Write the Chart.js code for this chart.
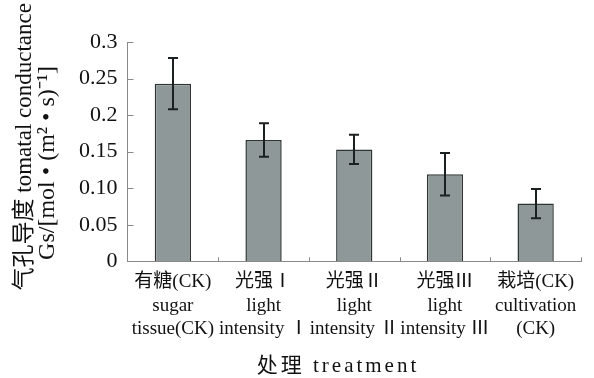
<!DOCTYPE html>
<html>
<head>
<meta charset="utf-8">
<script src="https://cdn.jsdelivr.net/npm/chart.js@4/dist/chart.umd.min.js"></script>
<style>
html, body { margin: 0; padding: 0; background: #fff; }
#wrap { width: 594px; height: 378px; }
</style>
</head>
<body>
<div id="wrap"><canvas id="chart_gs"></canvas></div>
<script>
var categories = [
	['有糖(CK)', 'sugar', 'tissue(CK)'],
	['光强Ⅰ', 'light', 'intensity Ⅰ'],
	['光强Ⅱ', 'light', 'intensity Ⅱ'],
	['光强Ⅲ', 'light', 'intensity Ⅲ'],
	['栽培(CK)', 'cultivation', '(CK)']
];
var gsValues = [0.243, 0.166, 0.153, 0.119, 0.079];
var gsErrors = [0.035, 0.023, 0.020, 0.029, 0.020];
var yTickLabels = ['0', '0.05', '0.10', '0.15', '0.2', '0.25', '0.3'];
var yTitleLines = ['气孔导度 tomatal conductance', 'Gs/[mol • (m² • s)⁻¹]'];
var xTitle = '处理 treatment';

var serif = "'Liberation Serif', 'Times New Roman', 'Noto Sans CJK SC', serif";

// error bars, inner tick marks and the two axis titles
var decor = {
	id: 'decor',
	afterDatasetsDraw: function(chart) {
		var ctx = chart.ctx, x = chart.scales.x, y = chart.scales.y, area = chart.chartArea;
		ctx.save();
		ctx.strokeStyle = '#1b2121';
		ctx.lineWidth = 2;
		ctx.beginPath();
		gsValues.forEach(function(v, i) {
			var cx = Math.round(x.getPixelForValue(i));
			var top = y.getPixelForValue(v + gsErrors[i]);
			var bot = y.getPixelForValue(v - gsErrors[i]);
			ctx.moveTo(cx, top); ctx.lineTo(cx, bot);
			ctx.moveTo(cx - 5, top); ctx.lineTo(cx + 5, top);
			ctx.moveTo(cx - 5, bot); ctx.lineTo(cx + 5, bot);
		});
		ctx.stroke();

		ctx.strokeStyle = '#8a8a8a';
		ctx.lineWidth = 1;
		ctx.beginPath();
		y.ticks.forEach(function(t) {
			var py = Math.round(y.getPixelForValue(t.value)) + 0.5;
			ctx.moveTo(area.left, py); ctx.lineTo(area.left + 6, py);
		});
		for (var i = 1; i <= categories.length; i++) {
			var px = Math.round(x.getPixelForValue(i - 0.5)) + 0.5;
			ctx.moveTo(px, area.bottom); ctx.lineTo(px, area.bottom - 4);
		}
		ctx.stroke();
		ctx.restore();
	},
	afterDraw: function(chart) {
		var ctx = chart.ctx;
		ctx.save();
		ctx.fillStyle = '#111';
		ctx.font = '23px ' + serif;
		ctx.textBaseline = 'middle';

		ctx.save();
		ctx.translate(25, 3);
		ctx.rotate(-Math.PI / 2);
		ctx.textAlign = 'right';
		ctx.fillText(yTitleLines[0], 0, 0);
		ctx.restore();

		ctx.save();
		ctx.font = '24px ' + serif;
		ctx.translate(48, 163);
		ctx.rotate(-Math.PI / 2);
		ctx.textAlign = 'center';
		ctx.fillText(yTitleLines[1], 0, 0);
		ctx.restore();

		ctx.font = '21px ' + serif;
		ctx.textAlign = 'center';
		ctx.letterSpacing = '3px';
		ctx.fillText(xTitle, 338, 366);
		ctx.restore();
	}
};

var ctx = document.getElementById('chart_gs').getContext('2d');
var gsChart = new Chart(ctx, {
	type: 'bar',
	data: {
		labels: categories,
		datasets: [{
			label: 'Gs',
			data: gsValues,
			backgroundColor: '#8f9899',
			borderColor: '#2f3535',
			borderWidth: 1.5,
			categoryPercentage: 1,
			barPercentage: 0.4
		}]
	},
	options: {
		responsive: true,
		maintainAspectRatio: false,
		animation: false,
		layout: { padding: { left: 69, right: 13, top: 42, bottom: 28 } },
		plugins: {
			legend: { display: false },
			tooltip: { enabled: false }
		},
		scales: {
			x: {
				grid: { display: false, drawTicks: false },
				border: { display: true, color: '#8a8a8a', width: 1 },
				ticks: {
					color: '#111',
					autoSkip: false,
					maxRotation: 0,
					padding: 9,
					font: { family: serif, size: 19, lineHeight: 1.24 }
				}
			},
			y: {
				min: 0,
				max: 0.3,
				grid: { display: false, drawTicks: false },
				border: { display: true, color: '#8a8a8a', width: 1 },
				ticks: {
					stepSize: 0.05,
					color: '#111',
					padding: 10,
					font: { family: serif, size: 22 },
					callback: function(value, index) { return yTickLabels[index]; }
				}
			}
		}
	},
	plugins: [decor]
});
</script>
</body>
</html>
